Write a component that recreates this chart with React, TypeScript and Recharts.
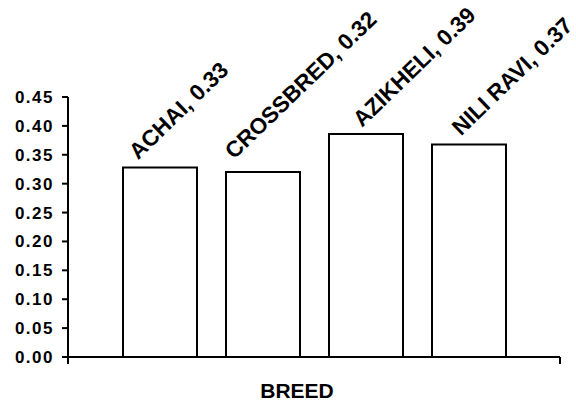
import React from 'react';
import { BarChart, Bar, XAxis, YAxis, LabelList } from 'recharts';

// values (labels round them to 2 places)
const breeds = ['ACHAI', 'CROSSBRED', 'AZIKHELI', 'NILI RAVI'];
const values = [0.328, 0.32, 0.386, 0.368];
const yTicks = [0, 0.05, 0.1, 0.15, 0.2, 0.25, 0.3, 0.35, 0.4, 0.45];
const xTitle = 'BREED';

// label nudges relative to the bar's top centre (the source placed them by hand)
const labelNudge: [number, number][] = [
  [-22, -7],
  [-29, -12],
  [-4, -6],
  [-8, -8],
];

const FONT = '"Liberation Sans", Arial, sans-serif';

const data = breeds.map((breed, i) => ({ breed, value: values[i] }));

const YTick = (props: any) => {
  const { x, y, payload } = props;
  return (
    <text
      x={x}
      y={y}
      dy={6}
      textAnchor="end"
      fill="#000"
      fontFamily={FONT}
      fontWeight="bold"
      fontSize={17}
      letterSpacing={1.5}
    >
      {Number(payload.value).toFixed(2)}
    </text>
  );
};

const BarTag = (props: any) => {
  const { x, y, width, value, index } = props;
  const [dx, dy] = labelNudge[index] || [0, -6];
  const ax = Number(x) + Number(width) / 2 + dx;
  const ay = Number(y) + dy;
  return (
    <text
      x={ax}
      y={ay}
      transform={`rotate(-44 ${ax} ${ay})`}
      textAnchor="start"
      fill="#000"
      fontFamily={FONT}
      fontWeight="bold"
      fontSize={22.5}
    >
      {`${breeds[index]}, ${Number(value).toFixed(2)}`}
    </text>
  );
};

// axis title plus the two little end ticks of the category axis, placed from the axis box
const AxisTitle = (props: any) => {
  const vb = props.viewBox || {};
  const x0 = Number(vb.x) || 0;
  const y0 = Number(vb.y) || 0;
  const w = Number(vb.width) || 0;
  const h = Number(vb.height) || 0;
  return (
    <g>
      <line x1={x0} y1={y0} x2={x0} y2={y0 + 7} stroke="#000" strokeWidth={2} />
      <line x1={x0 + w} y1={y0} x2={x0 + w} y2={y0 + 7} stroke="#000" strokeWidth={2} />
      <text
        x={x0 + w / 2 - 17}
        y={y0 + h - 5}
        textAnchor="middle"
        fill="#000"
        fontFamily={FONT}
        fontWeight="bold"
        fontSize={21}
      >
        {xTitle}
      </text>
    </g>
  );
};

export default function App() {
  return (
    <div style={{ position: 'absolute', left: 0, top: 0, width: 576, height: 403, background: '#fff' }}>
      <BarChart
        width={576}
        height={403}
        data={data}
        margin={{ top: 97, right: 16, bottom: 0, left: 0 }}
      >
        <XAxis
          dataKey="breed"
          height={46}
          padding={{ left: 40, right: 40 }}
          tick={false}
          tickLine={false}
          axisLine={{ stroke: '#000', strokeWidth: 2 }}
          label={<AxisTitle />}
        />
        <YAxis
          width={68}
          domain={[0, 0.45]}
          ticks={yTicks}
          interval={0}
          tickSize={6}
          tickMargin={8}
          tick={<YTick />}
          axisLine={{ stroke: '#000', strokeWidth: 2 }}
          tickLine={{ stroke: '#000', strokeWidth: 2 }}
        />
        <Bar
          dataKey="value"
          fill="#fff"
          stroke="#000"
          strokeWidth={2}
          barSize={74}
          isAnimationActive={false}
        >
          <LabelList dataKey="value" content={<BarTag />} />
        </Bar>
      </BarChart>
    </div>
  );
}
